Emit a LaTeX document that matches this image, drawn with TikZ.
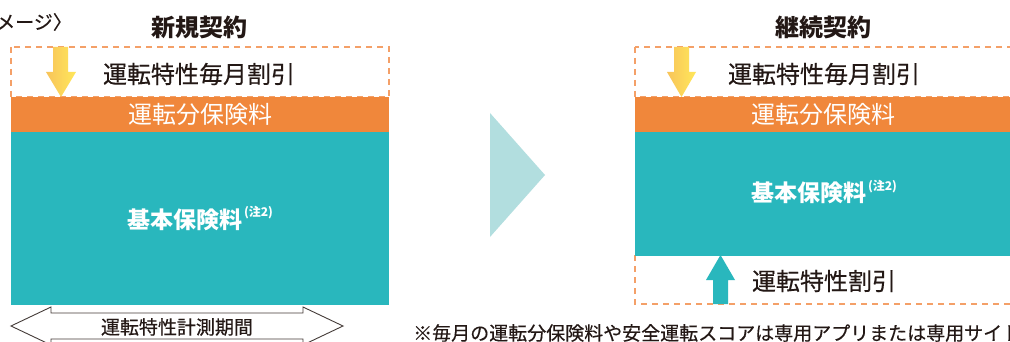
\documentclass[tikz,border=0pt]{standalone}
\usepackage{fontspec}
\setmainfont{Noto Sans CJK JP}
\newfontfamily\medfont{Noto Sans CJK JP}[FakeBold=0.35]
\definecolor{cOrange}{HTML}{F0873B}
\definecolor{cDash}{HTML}{F4A068}
\definecolor{cTeal}{HTML}{29B7BD}
\definecolor{cTri}{HTML}{B2DEDF}
\definecolor{cText}{HTML}{231815}
\definecolor{cYelL}{HTML}{F8C45A}
\definecolor{cYelR}{HTML}{FFE75A}
\begin{document}
\begin{tikzpicture}[x=1pt,y=-1pt,
  dashbox/.style={draw=cDash, line width=1.3pt, dash pattern=on 6pt off 5pt},
  band/.style={inner sep=0pt, outer sep=0pt, anchor=north west},
  bigtxt/.style={text=cText, font=\medfont\fontsize{24}{28}\selectfont, inner sep=0pt},
  titletxt/.style={text=cText, font=\bfseries\fontsize{24}{28}\selectfont, inner sep=0pt},
  whitetxt/.style={text=white, font=\fontsize{24}{28}\selectfont},
  basetxt/.style={text=white, font=\bfseries\fontsize{23}{26}\selectfont},
  yelarrow/.style={left color=cYelL, right color=cYelR},
]
\clip (0,0) rectangle (1010,342);
\fill[white] (0,0) rectangle (1010,342);

% top-left label (clipped at the left edge, as in the reference)
\node[text=cText, font=\medfont\fontsize{19}{22}\selectfont, anchor=east, inner sep=0pt] (img) at (72,22) {〈イメージ〉};

% titles
\node[titletxt] (tnew) at (199,27) {新規契約};
\node[titletxt] (tcont) at (823,27) {継続契約};

% ---------- left column ----------
\draw[dashbox] (11,47) rectangle (389,97);
\node[bigtxt] (ldisc) at (199,74) {運転特性毎月割引};
\node[band, fill=cOrange, minimum width=378pt, minimum height=35pt, whitetxt] (lprem) at (11,97) {運転分保険料};
\node[band, fill=cTeal, minimum width=378pt, minimum height=173pt, basetxt] (lbase) at (11,132)
  {基本保険料\raisebox{0.5em}{\fontsize{12}{12}\selectfont\,(注2)}};
\shade[yelarrow] (53,47) -- (68,47) -- (68,72) -- (76,72) -- (61,97) -- (46,72) -- (53,72) -- cycle;

% measuring period double arrow
\draw[draw=cText!85, line width=0.9pt, fill=white]
  (11,326) -- (51,307) -- (51,313) -- (303,313) -- (303,307) -- (343,326)
  -- (303,345) -- (303,339) -- (51,339) -- (51,345) -- cycle;
\node[text=cText, font=\medfont\fontsize{19}{22}\selectfont, inner sep=0pt] (period) at (177,327) {運転特性計測期間};

% ---------- middle triangle ----------
\fill[cTri] (490,113) -- (545,175) -- (490,237) -- cycle;

% ---------- right column ----------
\draw[dashbox] (635,47) rectangle (1016,97);
\node[bigtxt] (rdisc) at (824,74) {運転特性毎月割引};
\node[band, fill=cOrange, minimum width=381pt, minimum height=35pt] (rprem) at (635,97) {};
\node[whitetxt] (rpremt) at (823.5,114.5) {運転分保険料};
\node[band, fill=cTeal, minimum width=381pt, minimum height=123pt] (rbase) at (635,132) {};
\node[basetxt] (rbaset) at (824,192)
  {基本保険料\raisebox{0.5em}{\fontsize{12}{12}\selectfont\,(注2)}};
\shade[yelarrow] (674,47) -- (689,47) -- (689,72) -- (696,72) -- (681.5,97) -- (667,72) -- (674,72) -- cycle;

\draw[dashbox] (635,255) rectangle (1016,304);
\fill[cTeal] (635,254) rectangle (1016,256);
\node[bigtxt] (rsafe) at (824,281) {運転特性割引};
\fill[cTeal] (713,304) -- (713,280) -- (706,280) -- (720.5,255) -- (735,280) -- (728,280) -- (728,304) -- cycle;

% footnote (clipped at the right edge, as in the reference)
\node[text=cText, font=\medfont\fontsize{19}{22}\selectfont, anchor=west, inner sep=0pt] (note) at (413,333)
  {※毎月の運転分保険料や安全運転スコアは専用アプリまたは専用サイト};
\end{tikzpicture}
\end{document}
